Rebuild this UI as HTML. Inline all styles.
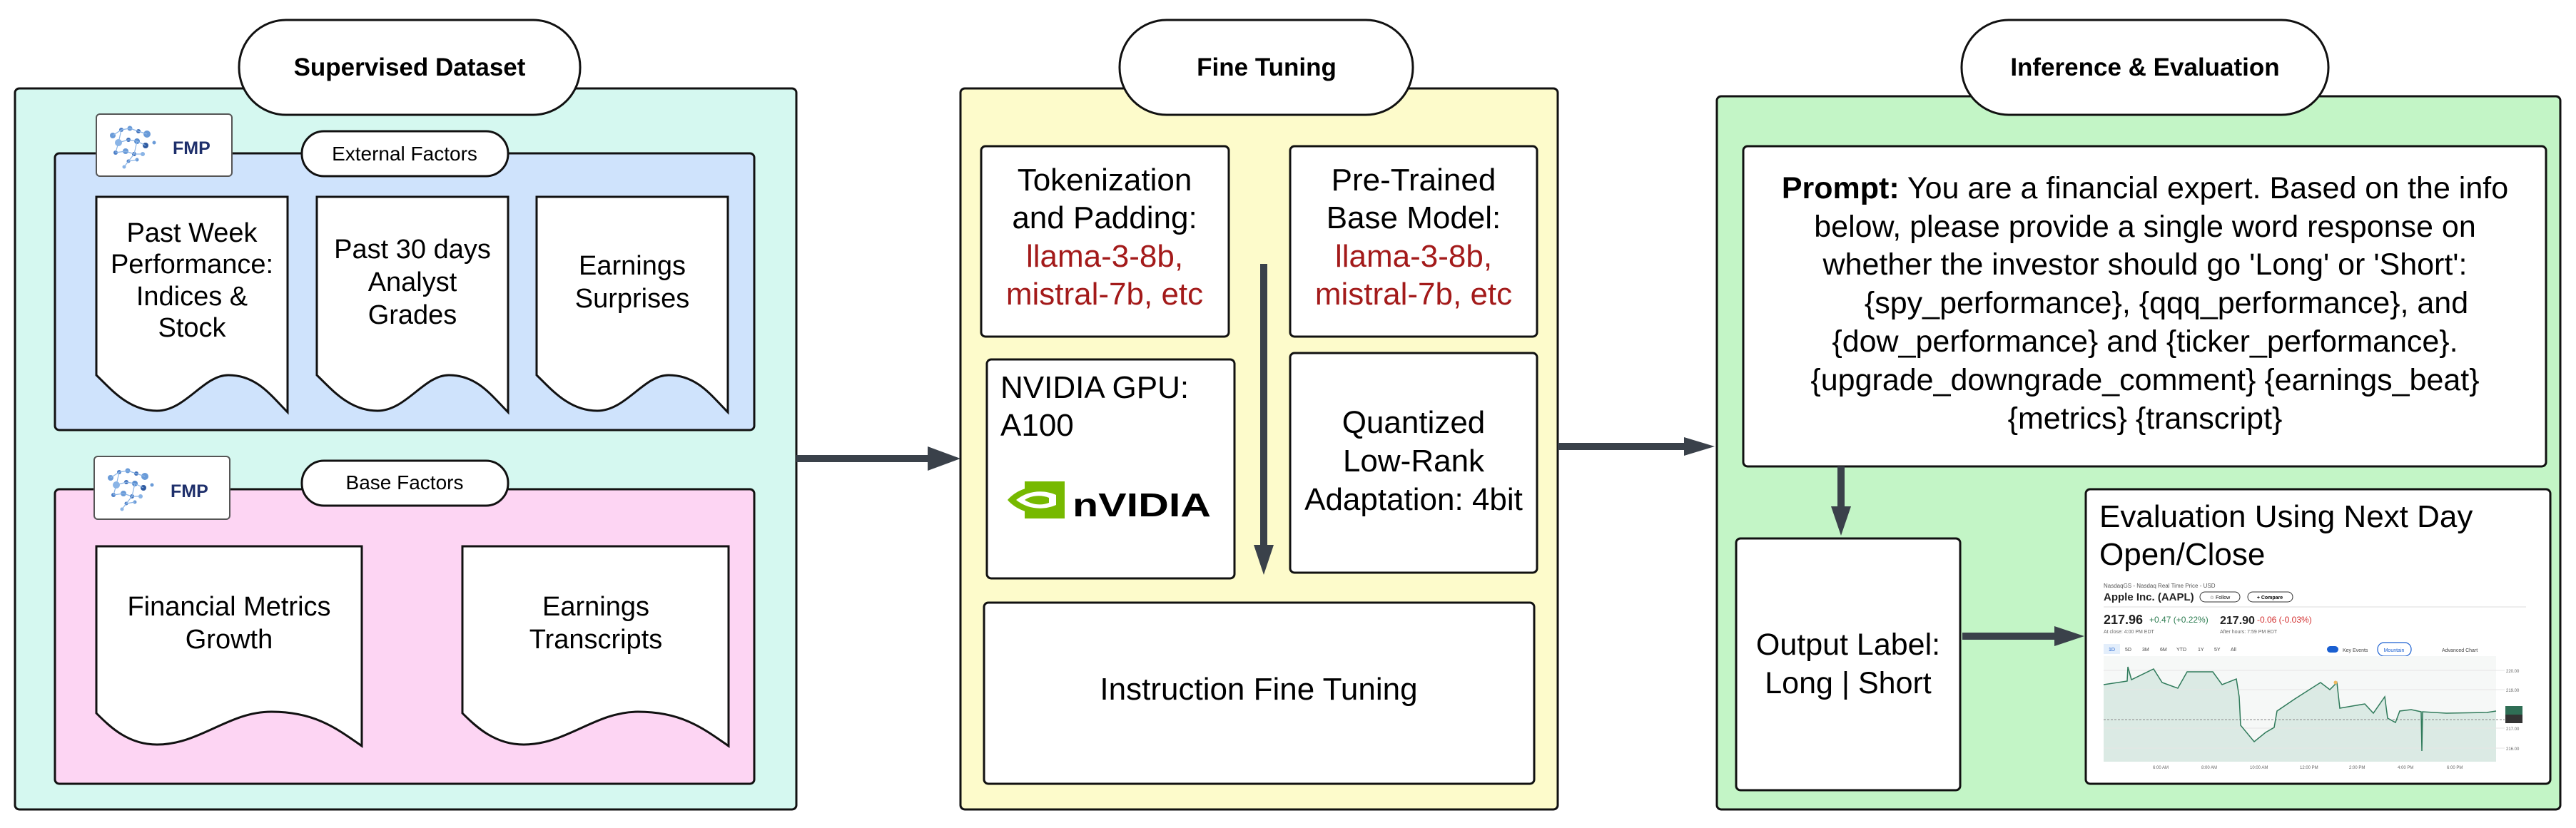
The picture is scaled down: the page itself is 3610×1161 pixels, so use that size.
<!DOCTYPE html>
<html><head><meta charset="utf-8"><style>
html,body{margin:0;padding:0;background:#fff;}
svg{display:block;font-family:"Liberation Sans",Arial,sans-serif;}
</style></head><body>
<svg width="3610" height="1161" viewBox="0 0 3610 1161" xmlns="http://www.w3.org/2000/svg">
<defs>
<g id="fmpdots">
<circle cx="0" cy="0" r="4" fill="#6a9bd8"/><circle cx="12" cy="-8" r="3" fill="#4d7fc7"/><circle cx="24" cy="-10" r="3.5" fill="#6a9bd8"/>
<circle cx="36" cy="-6" r="3" fill="#3f6fb8"/><circle cx="48" cy="-2" r="5" fill="#6a9bd8"/><circle cx="8" cy="10" r="5" fill="#8ab4e6"/>
<circle cx="22" cy="6" r="3" fill="#3f6fb8"/><circle cx="34" cy="8" r="4" fill="#5a8ed0"/><circle cx="46" cy="14" r="4" fill="#2f5aa0"/>
<circle cx="58" cy="10" r="2.5" fill="#6a9bd8"/><circle cx="4" cy="24" r="3" fill="#4d7fc7"/><circle cx="18" cy="22" r="4" fill="#6a9bd8"/>
<circle cx="30" cy="26" r="3" fill="#3f6fb8"/><circle cx="42" cy="26" r="3" fill="#8ab4e6"/><circle cx="22" cy="36" r="2.5" fill="#4d7fc7"/>
<circle cx="34" cy="34" r="2.5" fill="#6a9bd8"/><circle cx="16" cy="44" r="2.5" fill="#8ab4e6"/>
<path d="M0 0L12 -8L24 -10L36 -6L48 -2M8 10L22 6L34 8L46 14M4 24L18 22L30 26L42 26M22 36L34 34M12 -8L8 10L4 24M34 8L30 26L22 36L16 44" stroke="#8ab4e6" stroke-width="1.2" fill="none"/>
</g>
</defs>

<!-- ===== Supervised Dataset ===== -->
<rect x="21" y="124" width="1095" height="1011" rx="6" fill="#d5f8f0" stroke="#111" stroke-width="3"/>
<rect x="335" y="28" width="478" height="133" rx="66" fill="#fff" stroke="#111" stroke-width="3"/>
<text x="574" y="106" font-size="35" font-weight="bold" text-anchor="middle">Supervised Dataset</text>

<rect x="77" y="215" width="980" height="388" rx="6" fill="#cfe3fc" stroke="#111" stroke-width="3"/>
<rect x="135" y="160" width="190" height="87" rx="5" fill="#fff" stroke="#555" stroke-width="2"/>
<use href="#fmpdots" x="158" y="190"/>
<text x="242" y="216" font-size="25" font-weight="bold" fill="#1e2f6b">FMP</text>
<rect x="423" y="184" width="289" height="63" rx="31" fill="#fff" stroke="#111" stroke-width="3"/>
<text x="567" y="225" font-size="28" text-anchor="middle">External Factors</text>

<g fill="#fff" stroke="#111" stroke-width="3">
<path d="M135 276H403V578C380 555 360 526 320 526C285 526 260 576 220 576C180 576 155 545 135 526Z"/>
<path d="M444 276H712V578C689 555 669 526 629 526C594 526 569 576 529 576C489 576 464 545 444 526Z"/>
<path d="M752 276H1020V578C997 555 977 526 937 526C902 526 877 576 837 576C797 576 772 545 752 526Z"/>
</g>
<g font-size="38" text-anchor="middle">
<text x="269" y="339">Past Week</text><text x="269" y="383">Performance:</text><text x="269" y="428">Indices &amp;</text><text x="269" y="472">Stock</text>
<text x="578" y="362">Past 30 days</text><text x="578" y="408">Analyst</text><text x="578" y="454">Grades</text>
<text x="886" y="385">Earnings</text><text x="886" y="431">Surprises</text>
</g>

<rect x="77" y="686" width="980" height="413" rx="6" fill="#fdd5f3" stroke="#111" stroke-width="3"/>
<rect x="132" y="640" width="190" height="88" rx="5" fill="#fff" stroke="#555" stroke-width="2"/>
<use href="#fmpdots" x="155" y="670"/>
<text x="239" y="697" font-size="25" font-weight="bold" fill="#1e2f6b">FMP</text>
<rect x="423" y="646" width="289" height="63" rx="31" fill="#fff" stroke="#111" stroke-width="3"/>
<text x="567" y="686" font-size="28" text-anchor="middle">Base Factors</text>

<g fill="#fff" stroke="#111" stroke-width="3">
<path d="M135 766H507V1046C470 1020 440 998 380 998C320 998 280 1044 220 1044C180 1044 155 1020 135 1000Z"/>
<path d="M648 766H1021V1046C984 1020 954 998 894 998C834 998 794 1044 734 1044C694 1044 668 1020 648 1000Z"/>
</g>
<g font-size="38" text-anchor="middle">
<text x="321" y="863">Financial Metrics</text><text x="321" y="909">Growth</text>
<text x="835" y="863">Earnings</text><text x="835" y="909">Transcripts</text>
</g>

<!-- arrow 1 -->
<rect x="1116" y="638" width="190" height="10" fill="#3a414a"/>
<path d="M1346 643L1300 626L1300 660Z" fill="#3a414a"/>

<!-- ===== Fine Tuning ===== -->
<rect x="1346" y="124" width="837" height="1011" rx="6" fill="#fdfbcb" stroke="#111" stroke-width="3"/>
<rect x="1569" y="28" width="411" height="133" rx="66" fill="#fff" stroke="#111" stroke-width="3"/>
<text x="1775" y="106" font-size="35" font-weight="bold" text-anchor="middle">Fine Tuning</text>

<g fill="#fff" stroke="#111" stroke-width="3">
<rect x="1375" y="205" width="347" height="267" rx="6"/>
<rect x="1808" y="205" width="346" height="267" rx="6"/>
<rect x="1383" y="504" width="347" height="307" rx="6"/>
<rect x="1808" y="495" width="346" height="308" rx="6"/>
<rect x="1379" y="845" width="771" height="254" rx="6"/>
</g>
<g font-size="44" text-anchor="middle">
<text x="1548" y="267">Tokenization</text><text x="1548" y="320">and Padding:</text>
<text x="1548" y="374" fill="#a31a1a">llama-3-8b,</text><text x="1548" y="427" fill="#a31a1a">mistral-7b, etc</text>
<text x="1981" y="267">Pre-Trained</text><text x="1981" y="320">Base Model:</text>
<text x="1981" y="374" fill="#a31a1a">llama-3-8b,</text><text x="1981" y="427" fill="#a31a1a">mistral-7b, etc</text>
<text x="1981" y="607">Quantized</text><text x="1981" y="661">Low-Rank</text><text x="1981" y="715">Adaptation: 4bit</text>
<text x="1764" y="981">Instruction Fine Tuning</text>
</g>
<text x="1402" y="558" font-size="44">NVIDIA GPU:</text>
<text x="1402" y="611" font-size="44">A100</text>
<!-- nvidia logo -->
<rect x="1436" y="675" width="56" height="52" fill="#76b900"/>
<path d="M1412 701C1430 680 1465 676 1492 690L1492 712C1465 726 1430 722 1412 701Z" fill="#76b900"/>
<path d="M1424 701C1440 688 1462 686 1480 694L1480 708C1462 716 1440 714 1424 701Z" fill="#fff"/>
<path d="M1436 701C1446 694 1460 694 1470 698L1470 705C1460 709 1446 708 1436 701Z" fill="#76b900"/>
<text x="1503" y="724" font-size="46" font-weight="bold" textLength="194" lengthAdjust="spacingAndGlyphs">nVIDIA</text>

<!-- vertical arrow -->
<rect x="1766" y="370" width="10" height="400" fill="#3a414a"/>
<path d="M1771 806L1757 764L1785 764Z" fill="#3a414a"/>

<!-- arrow 2 -->
<rect x="2183" y="621" width="190" height="10" fill="#3a414a"/>
<path d="M2403 626L2360 613L2360 639Z" fill="#3a414a"/>

<!-- ===== Inference & Evaluation ===== -->
<rect x="2406" y="135" width="1182" height="1000" rx="6" fill="#c3f5c6" stroke="#111" stroke-width="3"/>
<rect x="2749" y="28" width="514" height="133" rx="66" fill="#fff" stroke="#111" stroke-width="3"/>
<text x="3006" y="106" font-size="35" font-weight="bold" text-anchor="middle">Inference &amp; Evaluation</text>

<g fill="#fff" stroke="#111" stroke-width="3">
<rect x="2443" y="205" width="1125" height="449" rx="6"/>
<rect x="2433" y="755" width="314" height="353" rx="6"/>
<rect x="2923" y="686" width="651" height="413" rx="6"/>
</g>
<g font-size="43" text-anchor="middle">
<text x="3006" y="278"><tspan font-weight="bold">Prompt:</tspan> You are a financial expert. Based on the info</text>
<text x="3006" y="332">below, please provide a single word response on</text>
<text x="3006" y="385">whether the investor should go 'Long' or 'Short':</text>
<text x="3036" y="439">{spy_performance}, {qqq_performance}, and</text>
<text x="3006" y="493">{dow_performance} and {ticker_performance}.</text>
<text x="3006" y="547">{upgrade_downgrade_comment} {earnings_beat}</text>
<text x="3006" y="601">{metrics} {transcript}</text>
<text x="2590" y="918">Output Label:</text>
<text x="2590" y="972">Long | Short</text>
</g>
<text x="2942" y="739" font-size="44">Evaluation Using Next Day</text>
<text x="2942" y="792" font-size="44">Open/Close</text>

<!-- arrows -->
<rect x="2575" y="654" width="10" height="60" fill="#3a414a"/>
<path d="M2580 751L2566 710L2594 710Z" fill="#3a414a"/>
<rect x="2750" y="887" width="135" height="10" fill="#3a414a"/>
<path d="M2921 892L2879 878L2879 906Z" fill="#3a414a"/>

<!-- chart screenshot -->
<g>
<text x="2948" y="824" font-size="8" fill="#555">NasdaqGS - Nasdaq Real Time Price - USD</text>
<text x="2948" y="842" font-size="15" font-weight="bold" fill="#222">Apple Inc. (AAPL)</text>
<rect x="3083" y="830" width="56" height="14" rx="7" fill="#fff" stroke="#333" stroke-width="1"/>
<text x="3111" y="840" font-size="7" text-anchor="middle">☆ Follow</text>
<rect x="3150" y="830" width="63" height="14" rx="7" fill="#fff" stroke="#333" stroke-width="1"/>
<text x="3181" y="840" font-size="7" text-anchor="middle" font-weight="bold">+ Compare</text>
<line x1="2948" y1="851" x2="3540" y2="851" stroke="#ddd" stroke-width="1"/>
<text x="2948" y="875" font-size="18" font-weight="bold" fill="#222">217.96</text>
<text x="3012" y="873" font-size="12" fill="#2e7d52">+0.47 (+0.22%)</text>
<text x="3111" y="875" font-size="16" font-weight="bold" fill="#222">217.90</text>
<text x="3163" y="873" font-size="12" fill="#d32f2f">-0.06 (-0.03%)</text>
<text x="2948" y="888" font-size="7" fill="#666">At close: 4:00 PM EDT</text>
<text x="3111" y="888" font-size="7" fill="#666">After hours: 7:59 PM EDT</text>
<rect x="2948" y="903" width="23" height="14" fill="#e3eefb"/>
<g font-size="7" fill="#444"><text x="2955" y="913" fill="#1a5fd1">1D</text><text x="2978" y="913">5D</text><text x="3002" y="913">3M</text><text x="3027" y="913">6M</text><text x="3050" y="913">YTD</text><text x="3080" y="913">1Y</text><text x="3103" y="913">5Y</text><text x="3126" y="913">All</text>
<text x="3283" y="914">Key Events</text><text x="3422" y="914">Advanced Chart</text></g>
<rect x="3261" y="906" width="16" height="9" rx="4.5" fill="#1a5fd1"/>
<rect x="3332" y="901" width="47" height="19" rx="9" fill="#fff" stroke="#1a5fd1" stroke-width="1.2"/>
<text x="3355" y="914" font-size="7" fill="#1a5fd1" text-anchor="middle">Mountain</text>
<rect x="2948" y="920" width="550" height="148" fill="#f6f8f7"/>
<polygon fill="#d6e8e1" opacity="0.85" points="2948,1068 2948,960 2981,955 2982,935 2987,953 3018,938 3030,957 3052,965 3065,942 3101,942 3114,960 3134,952 3138,977 3140,1017 3159,1040 3175,1027 3187,1020 3191,997 3216,980 3252,957 3265,967 3275,957 3279,993 3314,987 3326,1000 3342,977 3346,1007 3357,1013 3363,997 3379,995 3393,998 3395,998 3428,1000 3485,999 3498,997 3498,1068"/>
<g stroke="#e5e5e5" stroke-width="1"><line x1="2948" y1="940" x2="3510" y2="940"/><line x1="2948" y1="967" x2="3510" y2="967"/><line x1="2948" y1="1021" x2="3510" y2="1021"/><line x1="2948" y1="1049" x2="3510" y2="1049"/></g>
<line x1="2948" y1="1009" x2="3510" y2="1009" stroke="#888" stroke-width="1" stroke-dasharray="3,2"/>
<polyline fill="none" stroke="#2f7a5a" stroke-width="1.5" points="2948,960 2981,955 2982,935 2987,953 3018,938 3030,957 3052,965 3065,942 3101,942 3114,960 3134,952 3138,977 3140,1017 3159,1040 3175,1027 3187,1020 3191,997 3216,980 3252,957 3265,967 3275,957 3279,993 3314,987 3326,1000 3342,977 3346,1007 3357,1013 3363,997 3379,995 3393,998 3394,1053 3395,998 3428,1000 3485,999 3498,997"/>
<circle cx="3273" cy="957" r="2.5" fill="#f0b860"/>
<rect x="3511" y="990" width="24" height="12" fill="#2f6e55"/><rect x="3511" y="1002" width="24" height="12" fill="#333"/>
<g font-size="6" fill="#666"><text x="3512" y="943">220.00</text><text x="3512" y="970">219.00</text><text x="3512" y="1024">217.00</text><text x="3512" y="1052">216.00</text>
<text x="3017" y="1078">6:00 AM</text><text x="3085" y="1078">8:00 AM</text><text x="3153" y="1078">10:00 AM</text><text x="3223" y="1078">12:00 PM</text><text x="3292" y="1078">2:00 PM</text><text x="3360" y="1078">4:00 PM</text><text x="3429" y="1078">6:00 PM</text></g>
</g>
</svg>
</body></html>
